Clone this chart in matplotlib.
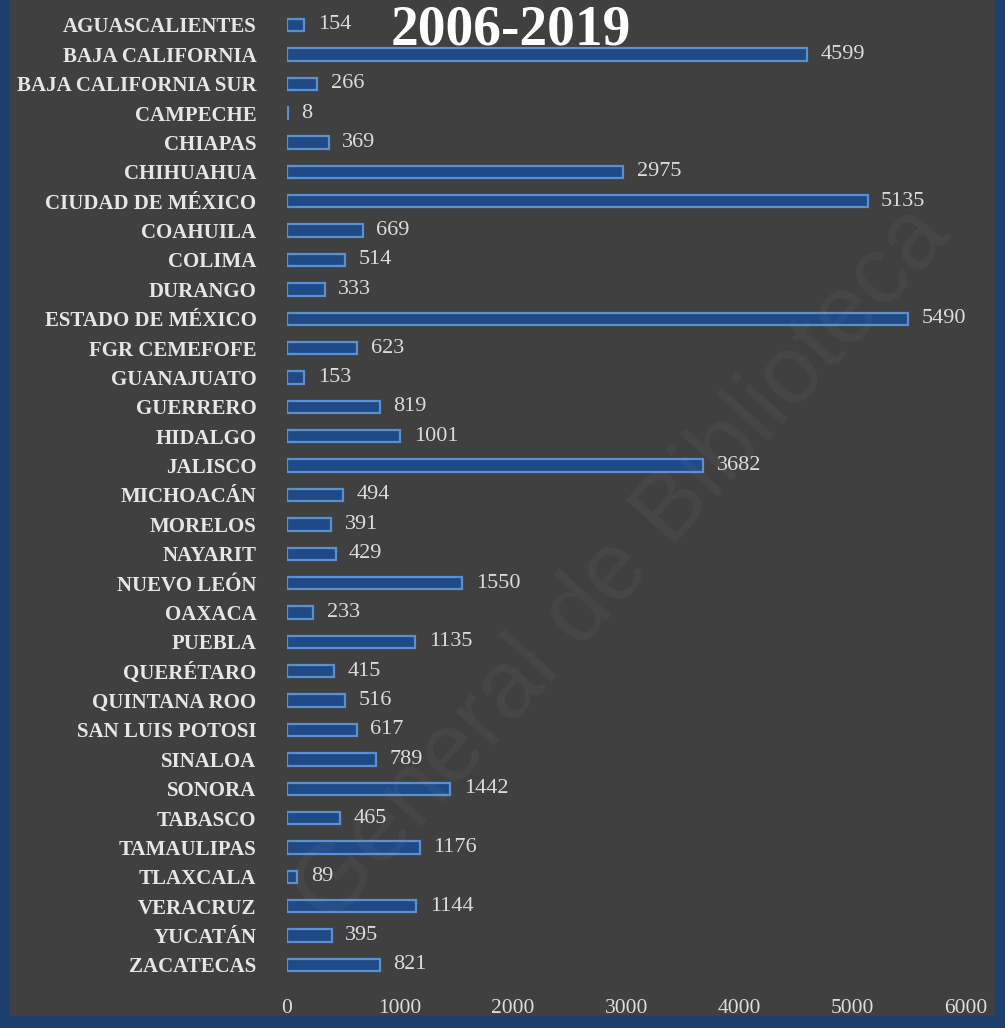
import matplotlib.pyplot as plt
from matplotlib.patches import Rectangle

estados = ['AGUASCALIENTES', 'BAJA CALIFORNIA', 'BAJA CALIFORNIA SUR', 'CAMPECHE', 'CHIAPAS',
           'CHIHUAHUA', 'CIUDAD DE MÉXICO', 'COAHUILA', 'COLIMA', 'DURANGO', 'ESTADO DE MÉXICO',
           'FGR CEMEFOFE', 'GUANAJUATO', 'GUERRERO', 'HIDALGO', 'JALISCO', 'MICHOACÁN', 'MORELOS',
           'NAYARIT', 'NUEVO LEÓN', 'OAXACA', 'PUEBLA', 'QUERÉTARO', 'QUINTANA ROO',
           'SAN LUIS POTOSI', 'SINALOA', 'SONORA', 'TABASCO', 'TAMAULIPAS', 'TLAXCALA',
           'VERACRUZ', 'YUCATÁN', 'ZACATECAS']
valores = [154, 4599, 266, 8, 369, 2975, 5135, 669, 514, 333, 5490, 623, 153, 819, 1001, 3682,
           494, 391, 429, 1550, 233, 1135, 415, 516, 617, 789, 1442, 465, 1176, 89, 1144, 395, 821]
xticks = [0, 1000, 2000, 3000, 4000, 5000, 6000]
titulo = '2006-2019'

bg = '#404040'
serif = ['Liberation Serif', 'DejaVu Serif']

fig = plt.figure(figsize=(10.05, 10.28), dpi=100, facecolor=bg)
ax = fig.add_axes([0.2856, 0.047, 0.675, 0.943])
ax.set_facecolor(bg)

y = list(range(len(estados)))
ax.barh(y, valores, height=0.42, color='#1f4a86', edgecolor='#5a8fd0', linewidth=1.6)
for yi, v in zip(y, valores):
    ax.text(v + 120, yi, str(v), va='center', ha='left', color='#dcdcdc',
            fontsize=16, family=serif)

ax.set_xlim(0, 6000)
ax.set_ylim(len(estados) - 0.5, -0.5)
ax.set_yticks(y)
ax.set_yticklabels(estados, family=serif, fontweight='bold', fontsize=15, color='#e6e6e6')
ax.set_xticks(xticks)
ax.set_xticklabels([str(t) for t in xticks], family=serif, fontsize=15.5, color='#dcdcdc')
ax.tick_params(length=0, axis='y', pad=22)
ax.tick_params(length=0, axis='x', pad=14)
for s in ax.spines.values():
    s.set_visible(False)

ax.text(1980, 0.18, titulo, ha='center', va='center', color='white', fontsize=40,
        fontweight='bold', family=serif)

# marco azul
fig.patches.append(Rectangle((0, 0), 0.008, 1, transform=fig.transFigure, color='#1d3f6e'))
fig.patches.append(Rectangle((0.99, 0), 0.01, 1, transform=fig.transFigure, color='#1d3f6e'))
fig.patches.append(Rectangle((0, 0), 1, 0.012, transform=fig.transFigure, color='#1d3f6e'))

# marca de agua
fig.text(0.62, 0.45, 'General de Biblioteca', rotation=48, ha='center', va='center',
         fontsize=70, color='#bfbfbf', alpha=0.06, family=['Liberation Sans', 'DejaVu Sans'])

fig.savefig('out.png', dpi=100, facecolor=bg)
